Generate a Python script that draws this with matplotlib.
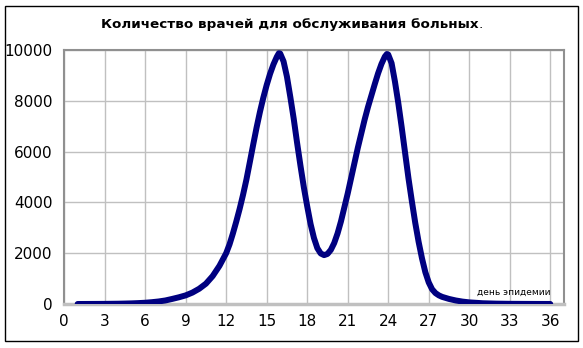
import matplotlib
matplotlib.use("Agg")
import matplotlib.pyplot as plt
from matplotlib.patches import Rectangle

# дни и количество врачей
days = [1, 1.5, 2, 2.5, 3, 3.5, 4, 4.5, 5, 5.5, 6, 6.5, 7, 7.5, 8, 8.5, 9, 9.5,
        10, 10.5, 11, 11.5, 12, 12.25, 12.5, 12.75, 13, 13.25, 13.5, 13.75, 14, 14.25,
        14.5, 14.75, 15, 15.25, 15.5, 15.75, 15.9, 16, 16.25, 16.5, 16.75, 17, 17.25,
        17.5, 17.75, 18, 18.25, 18.5, 18.75, 19, 19.25, 19.5, 19.75, 20, 20.25, 20.5,
        20.75, 21, 21.25, 21.5, 21.75, 22, 22.25, 22.5, 22.75, 23, 23.25, 23.5, 23.75,
        23.9, 24, 24.25, 24.5, 24.75, 25, 25.25, 25.5, 25.75, 26, 26.25, 26.5, 26.75,
        27, 27.25, 27.5, 27.75, 28, 28.5, 29, 29.5, 30, 31, 32, 33, 34, 35, 36]
doctors = [1, 2, 3, 4, 6, 9, 12, 18, 25, 36, 50, 72, 100, 140, 200, 265, 340, 450,
           600, 800, 1100, 1500, 2000, 2350, 2780, 3250, 3750, 4300, 4900, 5580, 6270, 6940,
           7560, 8120, 8620, 9060, 9430, 9730, 9870, 9860, 9550, 8950, 8150, 7300, 6350,
           5450, 4600, 3850, 3150, 2600, 2200, 1990, 1925, 1970, 2130, 2400, 2780, 3250,
           3800, 4350, 4950, 5550, 6150, 6700, 7250, 7750, 8200, 8650, 9080, 9450, 9740,
           9840, 9820, 9480, 8750, 7900, 6950, 5950, 4950, 4050, 3200, 2450, 1800, 1250,
           850, 580, 430, 340, 280, 200, 140, 95, 65, 30, 15, 8, 5, 3, 2]

x_ticks = list(range(0, 37, 3))
y_ticks = list(range(0, 10001, 2000))

fig = plt.figure(figsize=(5.83, 3.48), dpi=100)
ax = fig.add_axes([0.110, 0.1264, 0.857, 0.730])

ax.plot(days, doctors, color='#000080', linewidth=4.3, solid_capstyle='round',
        solid_joinstyle='round', zorder=3)

ax.set_xlim(0, 37)
ax.set_ylim(0, 10000)
ax.set_xticks(x_ticks)
ax.set_yticks(y_ticks)
ax.tick_params(axis='both', length=0, labelsize=11)
ax.tick_params(axis='x', pad=7)
ax.tick_params(axis='y', pad=8.5)
ax.grid(True, color='#c0c0c0', linewidth=1.0)
ax.set_axisbelow(True)

for s in ['top', 'right', 'left']:
    ax.spines[s].set_color('#909090')
    ax.spines[s].set_linewidth(1.5)
ax.spines['bottom'].set_color('#c0c0c0')
ax.spines['bottom'].set_linewidth(2.5)

ax.text(36, 440, 'день эпидемии', fontsize=6.5, ha='right', va='center')

# заголовок: жирный текст, точка обычная
t = fig.text(0.497, 0.930, 'Количество врачей для обслуживания больных',
             fontsize=9.7, fontweight='bold', ha='center', va='center')
fig.canvas.draw()
bb = t.get_window_extent()
fig.text(bb.x1 / fig.bbox.width, 0.930, '.', fontsize=9.7, ha='left', va='center')

# рамка вокруг рисунка
fig.patches.append(Rectangle((5 / 583, 7 / 348), 573 / 583, 335 / 348,
                             transform=fig.transFigure, fill=False,
                             edgecolor='black', linewidth=1.0))

plt.savefig('out.png', dpi=100)
